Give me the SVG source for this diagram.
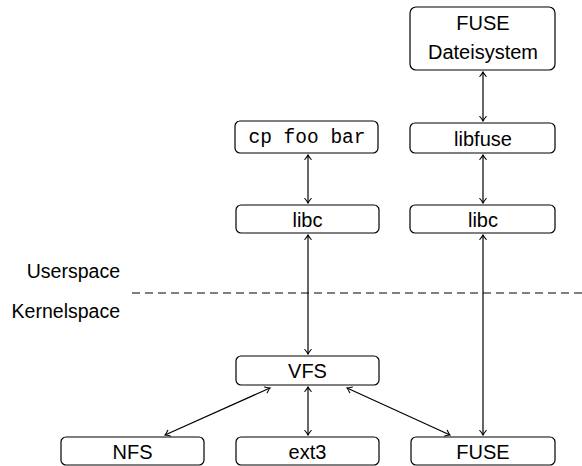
<svg xmlns="http://www.w3.org/2000/svg" width="582" height="466" viewBox="0 0 582 466">
  <style>
    .box { fill: #fff; stroke: #000; stroke-width: 1.2; }
    .lbl { font-family: "Liberation Sans", "DejaVu Sans", sans-serif; font-size: 20px; fill: #000; text-anchor: middle; }
    .mono { font-family: "Liberation Mono", "DejaVu Sans Mono", monospace; font-size: 19.5px; fill: #000; text-anchor: middle; }
    .side { font-family: "Liberation Sans", "DejaVu Sans", sans-serif; font-size: 19.5px; fill: #000; text-anchor: end; }
    .edge { stroke: #000; stroke-width: 1.2; fill: none; marker-start: url(#tip); marker-end: url(#tip); }
  </style>
  <defs>
    <marker id="tip" markerUnits="userSpaceOnUse" viewBox="-6 -4 8 8" refX="0" refY="0" markerWidth="8" markerHeight="8" orient="auto-start-reverse" overflow="visible">
      <path d="M-4.5,-3.2 Q-1.6,-0.7 0,0 Q-1.6,0.7 -4.5,3.2" fill="none" stroke="#000" stroke-width="1.1" stroke-linecap="round"/>
    </marker>
  </defs>

  <!-- layer labels and boundary -->
  <g id="layers">
    <text class="side" x="120" y="278">Userspace</text>
    <text class="side" x="120" y="318">Kernelspace</text>
    <line x1="132" y1="293" x2="582" y2="293" stroke="#000" stroke-width="1.2" stroke-dasharray="8 5"/>
  </g>

  <g id="connectors">
    <line class="edge" x1="483" y1="72" x2="483" y2="121"/>
    <line class="edge" x1="483" y1="155" x2="483" y2="203"/>
    <line class="edge" x1="308" y1="155" x2="308" y2="203"/>
    <line class="edge" x1="308" y1="235" x2="308" y2="354"/>
    <line class="edge" x1="483" y1="235" x2="483" y2="435"/>
    <line class="edge" x1="308" y1="387" x2="308" y2="435"/>
    <line class="edge" x1="270" y1="388" x2="165" y2="435"/>
    <line class="edge" x1="347" y1="388" x2="450" y2="435"/>
  </g>

  <g id="fuse-fs">
    <rect class="box" x="410" y="7" width="145" height="63" rx="6"/>
    <text class="lbl" x="483" y="30">FUSE</text>
    <text class="lbl" x="483" y="59">Dateisystem</text>
  </g>
  <g id="libfuse">
    <rect class="box" x="410" y="123" width="145" height="30" rx="5"/>
    <text class="lbl" x="483" y="146">libfuse</text>
  </g>
  <g id="cp">
    <rect class="box" x="235" y="121" width="143" height="32" rx="5"/>
    <text class="mono" x="307" y="143">cp foo bar</text>
  </g>
  <g id="libc-left">
    <rect class="box" x="236" y="205" width="143" height="28" rx="5"/>
    <text class="lbl" x="307.5" y="227">libc</text>
  </g>
  <g id="libc-right">
    <rect class="box" x="410" y="205" width="145" height="28" rx="5"/>
    <text class="lbl" x="483" y="227">libc</text>
  </g>
  <g id="vfs">
    <rect class="box" x="236" y="356" width="143" height="29" rx="5"/>
    <text class="lbl" x="307.5" y="378">VFS</text>
  </g>
  <g id="nfs">
    <rect class="box" x="61" y="437" width="143" height="28" rx="5"/>
    <text class="lbl" x="132.5" y="459">NFS</text>
  </g>
  <g id="ext3">
    <rect class="box" x="236" y="437" width="143" height="28" rx="5"/>
    <text class="lbl" x="307.5" y="459">ext3</text>
  </g>
  <g id="fuse-kernel">
    <rect class="box" x="411" y="437" width="144" height="28" rx="5"/>
    <text class="lbl" x="483" y="459">FUSE</text>
  </g>
</svg>
